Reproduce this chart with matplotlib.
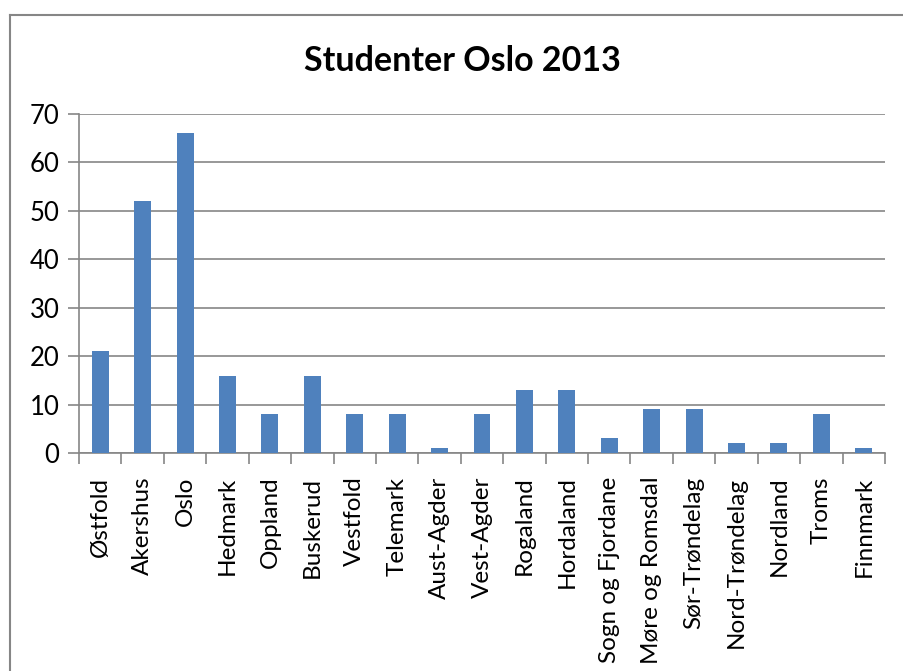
import numpy as np
import matplotlib
matplotlib.use("Agg")
import matplotlib.pyplot as plt
from matplotlib.lines import Line2D

plt.rcParams['font.family'] = ['Lato', 'DejaVu Sans']

fylker = ["Østfold", "Akershus", "Oslo", "Hedmark", "Oppland", "Buskerud",
          "Vestfold", "Telemark", "Aust-Agder", "Vest-Agder", "Rogaland",
          "Hordaland", "Sogn og Fjordane", "Møre og Romsdal", "Sør-Trøndelag",
          "Nord-Trøndelag", "Nordland", "Troms", "Finnmark"]
studenter = [21, 52, 66, 16, 8, 16, 8, 8, 1, 8, 13, 13, 3, 9, 9, 2, 2, 8, 1]
y_ticks = [0, 10, 20, 30, 40, 50, 60, 70]

W, H = 904, 671
fig = plt.figure(figsize=(W / 100, H / 100), dpi=100)
ax = fig.add_axes([79 / W, 1 - 453 / H, (885 - 79) / W, (453 - 114) / H])

grey = "#868686"
x = np.arange(len(fylker))
ax.bar(x, studenter, width=0.4, color="#4F81BD", zorder=3)

ax.set_xlim(-0.5, len(fylker) - 0.5)
ax.set_ylim(0, 70)
ax.set_yticks(y_ticks)
ax.yaxis.grid(True, color=grey, linewidth=1.2, zorder=0)
ax.tick_params(axis='y', length=8, width=1.2, color=grey, labelsize=18.5, pad=6)

ax.set_xticks(x)
ax.set_xticklabels(fylker, rotation=90, fontsize=17.5)
ax.set_xticks(np.arange(len(fylker) + 1) - 0.5, minor=True)
ax.tick_params(axis='x', which='major', length=0, pad=17)
ax.tick_params(axis='x', which='minor', length=8, width=1.2, color=grey)

for side in ["top", "right"]:
    ax.spines[side].set_visible(False)
for side in ["left", "bottom"]:
    ax.spines[side].set_color(grey)
    ax.spines[side].set_linewidth(1.2)

fig.text(462 / W, 1 - 61 / H, "Studenter Oslo 2013", ha="center", va="center",
         fontsize=24.5, fontweight="bold")

# outer chart border (only left and top visible in the crop)
fig.add_artist(Line2D([10 / W, 10 / W], [0, 1 - 15 / H], color=grey, linewidth=1.5,
                      transform=fig.transFigure))
fig.add_artist(Line2D([10 / W, 1], [1 - 15 / H, 1 - 15 / H], color=grey, linewidth=1.5,
                      transform=fig.transFigure))

fig.savefig("out.png", dpi=100)
